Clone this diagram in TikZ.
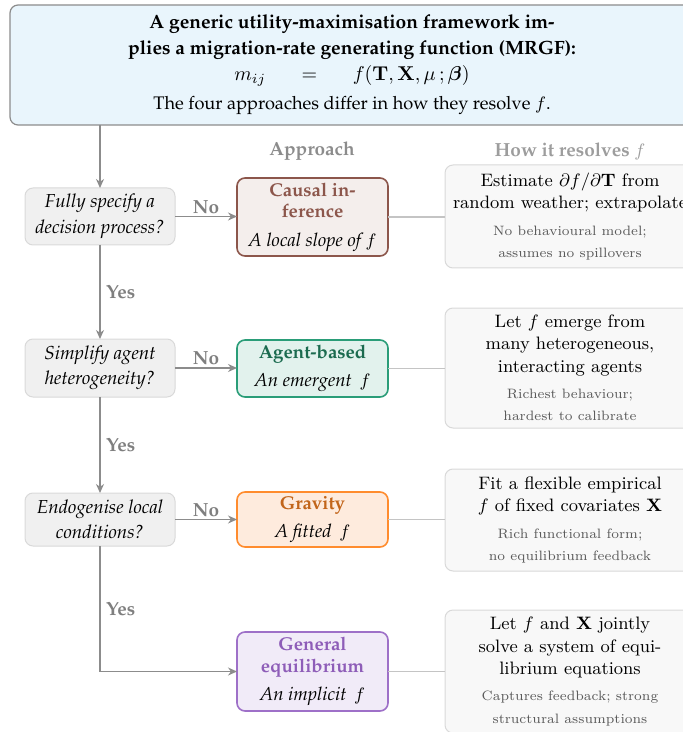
\documentclass[tikz,border=0pt]{standalone}
\usepackage[T1,TU]{fontenc}
\usepackage{amsmath,bm}
\usetikzlibrary{arrows.meta}
\newcommand\palfont{\fontencoding{T1}\fontfamily{ppl}\selectfont}
\definecolor{topfill}{HTML}{E9F5FC}
\definecolor{topdraw}{HTML}{8C8C8C}
\definecolor{decfill}{HTML}{F0F0F0}
\definecolor{decdraw}{HTML}{D9D9D9}
\definecolor{resfill}{HTML}{F8F8F8}
\definecolor{resdraw}{HTML}{D9D9D9}
\definecolor{arrowc}{HTML}{8C8C8C}
\definecolor{linkc}{HTML}{C4C4C4}
\definecolor{labc}{HTML}{7F7F7F}
\definecolor{headc}{HTML}{8C8C8C}
\definecolor{smallc}{HTML}{595959}
\definecolor{cidraw}{HTML}{8C564B}
\definecolor{cifill}{HTML}{F4EEEC}
\definecolor{citext}{HTML}{8C564B}
\definecolor{abdraw}{HTML}{2A9D78}
\definecolor{abfill}{HTML}{E2F2ED}
\definecolor{abtext}{HTML}{1B6B4F}
\definecolor{grdraw}{HTML}{FF8C2E}
\definecolor{grfill}{HTML}{FEEBDD}
\definecolor{grtext}{HTML}{C2651A}
\definecolor{gedraw}{HTML}{9E70C8}
\definecolor{gefill}{HTML}{F1EBF8}
\definecolor{getext}{HTML}{8E5DB8}
\newcommand\smalltxt[1]{{\fontsize{6.8}{10}\selectfont\color{smallc}#1}}
\begin{document}
\begin{tikzpicture}[x=0.5pt,y=-0.5pt,
  every node/.style={inner sep=0pt,outer sep=0pt},
  topbox/.style={draw=topdraw,fill=topfill,rounded corners=4pt,line width=0.6pt,
    minimum width=342pt,minimum height=60pt,align=center,
    font=\palfont\fontsize{9.6}{11.5}\selectfont},
  decbox/.style={draw=decdraw,fill=decfill,rounded corners=4pt,line width=0.5pt,
    minimum width=75pt,align=center,font=\palfont\itshape\fontsize{9.4}{12.3}\selectfont},
  appbox/.style={rounded corners=4pt,line width=0.8pt,minimum width=75.5pt,align=center,
    font=\palfont\fontsize{9.3}{10.25}\selectfont},
  resbox/.style={draw=resdraw,fill=resfill,rounded corners=4pt,line width=0.5pt,
    minimum width=125pt,align=center,font=\fontsize{9}{10.3}\selectfont},
  flow/.style={draw=arrowc,line width=0.7pt,-{Stealth[length=4.5pt,width=4pt]}},
  link/.style={draw=linkc,line width=0.6pt},
  lab/.style={text=labc,font=\palfont\bfseries\fontsize{9.5}{11}\selectfont},
  head/.style={text=headc,font=\palfont\bfseries\fontsize{9.5}{11}\selectfont},
]
\useasboundingbox (0,0) rectangle (683,732);

% top box
\node[topbox] (top) at (352,65) {%
  \textbf{A generic utility-maximisation framework im-}\\[1.5pt]
  \textbf{plies a migration-rate generating function (MRGF):}\\[1.5pt]
  {\fontsize{10}{12}\selectfont$m_{ij}\hspace{15pt}=\hspace{15pt}f(\mathbf{T},\mathbf{X},\mu\,;\bm{\beta})$}\\[3pt]
  {\fontsize{9.1}{11}\selectfont The four approaches differ in how they resolve $f$.}};

% column heads
\node[head] (hA) at (312,151) {Approach};
\node[head,text=headc!85] (hB) at (570,151) {How it resolves $f$};

% decisions
\node[decbox,minimum height=28.5pt] (d1) at (100,216.5) {Fully specify a\\[0.5pt]decision process?};
\node[decbox,minimum height=29pt] (d2) at (100,368) {Simplify agent\\[0.5pt]heterogeneity?};
\node[decbox,minimum height=26.5pt] (d3) at (100,519.5) {Endogenise local\\[0.5pt]conditions?};

% approaches
\node[appbox,draw=cidraw,fill=cifill,minimum height=39pt] (a1) at (312.5,217)
  {\textcolor{citext}{\bfseries Causal in-}\\[0.5pt]\textcolor{citext}{\bfseries ference}\\[4pt]\textit{A local slope of $f$}};
\node[appbox,draw=abdraw,fill=abfill,minimum height=28.5pt] (a2) at (312.5,368.5)
  {\textcolor{abtext}{\bfseries Agent-based}\\[4pt]\textit{An emergent\, $f$}};
\node[appbox,draw=grdraw,fill=grfill,minimum height=27.5pt] (a3) at (312.5,519.5)
  {\textcolor{grtext}{\bfseries Gravity}\\[4pt]\textit{A fitted\, $f$}};
\node[appbox,draw=gedraw,fill=gefill,minimum height=39.5pt] (a4) at (312.5,671.5)
  {\textcolor{getext}{\bfseries General}\\[0.5pt]\textcolor{getext}{\bfseries equilibrium}\\[4pt]\textit{An implicit\, $f$}};

% resolutions
\node[resbox,minimum height=51.5pt] (r1) at (570,216.5)
  {Estimate $\partial f/\partial\mathbf{T}$ from\\[0.8pt]random weather; extrapolate\\[3pt]
   \smalltxt{No behavioural model;}\\[0.8pt]\smalltxt{assumes no spillovers}};
\node[resbox,minimum height=60pt] (r2) at (570,368)
  {Let $f$ emerge from\\[0.8pt]many heterogeneous,\\[0.8pt]interacting agents\\[3pt]
   \smalltxt{Richest behaviour;}\\[0.8pt]\smalltxt{hardest to calibrate}};
\node[resbox,minimum height=51pt] (r3) at (570,520)
  {Fit a flexible empirical\\[0.8pt]$f$ of fixed covariates $\mathbf{X}$\\[3pt]
   \smalltxt{Rich functional form;}\\[0.8pt]\smalltxt{no equilibrium feedback}};
\node[resbox,minimum height=61.5pt] (r4) at (570,671.5)
  {Let $f$ and $\mathbf{X}$ jointly\\[0.8pt]solve a system of equi-\\[0.8pt]librium equations\\[3pt]
   \smalltxt{Captures feedback; strong}\\[0.8pt]\smalltxt{structural assumptions}};

% flow
\draw[flow] (top.south -| d1.north) -- (d1.north);
\draw[flow] (d1.south) -- node[lab,right=3pt] (y1) {Yes} (d2.north);
\draw[flow] (d2.south) -- node[lab,right=3pt] (y2) {Yes} (d3.north);
\draw[flow] (d3.south) -- node[lab,right=3pt] (y3) {Yes} (d3.south |- a4.west) -- (a4.west);
\draw[flow] (d1.east) -- node[lab,above=1.5pt] (n1) {No} (d1.east -| a1.west);
\draw[flow] (d2.east) -- node[lab,above=1.5pt] (n2) {No} (d2.east -| a2.west);
\draw[flow] (d3.east) -- node[lab,above=1.5pt] (n3) {No} (d3.east -| a3.west);

% links
\draw[link] (a1.east) -- (a1.east -| r1.west);
\draw[link] (a2.east) -- (a2.east -| r2.west);
\draw[link] (a3.east) -- (a3.east -| r3.west);
\draw[link] (a4.east) -- (a4.east -| r4.west);
\end{tikzpicture}
\end{document}
